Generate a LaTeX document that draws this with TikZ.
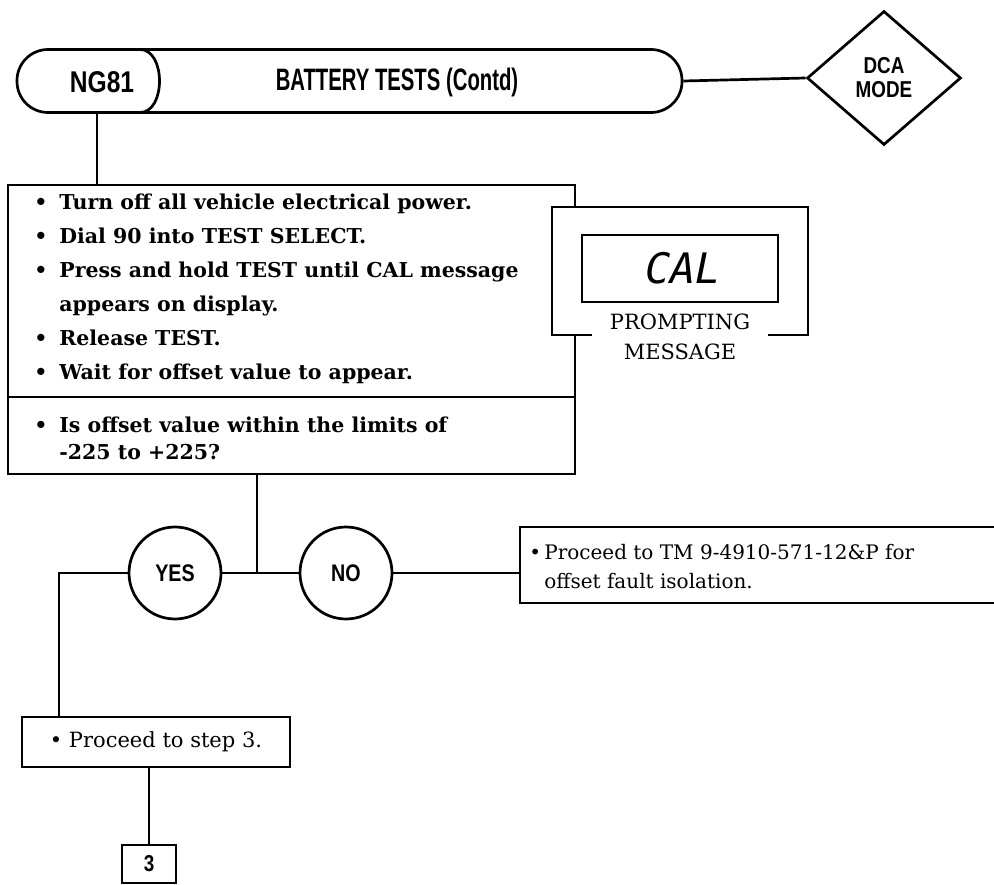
\documentclass[tikz,border=0pt]{standalone}
\usepackage{fontspec}
\setmainfont{DejaVu Serif}
\newfontfamily\hdr[FakeStretch=0.655]{Liberation Sans}
\newfontfamily\hdrb[FakeStretch=0.82]{Liberation Sans}
\newfontfamily\segfont[FakeSlant=0.2]{DejaVu Sans Mono}
\usetikzlibrary{shapes.geometric}
\begin{document}
\begin{tikzpicture}[x=1pt,y=-1pt, line width=2.7pt,
  lbl/.style={font=\hdrb\bfseries\fontsize{24}{25}\selectfont, inner sep=0, align=center},
  body/.style={font=\bfseries\fontsize{20.5}{24}\selectfont, inner sep=0, anchor=base west},
  plain/.style={font=\fontsize{20}{24}\selectfont, inner sep=0, anchor=base west},
  box/.style={draw, rectangle, inner sep=0},
  circ/.style={draw, circle, minimum size=92pt, inner sep=0, lbl}]
\useasboundingbox (0,0) rectangle (994,885);
% header
\node[draw, rounded corners=31pt, minimum width=665pt, minimum height=63pt, inner sep=0] (cap) at (349.5,81) {};
\draw (140,49.5) .. controls (166,49.5) and (166,112.5) .. (140,112.5);
\node[inner sep=0, font=\hdrb\bfseries\fontsize{30}{30}\selectfont] (ng) at (102,82) {NG81};
\node[inner sep=0, font=\hdr\bfseries\fontsize{31}{31}\selectfont] (title) at (397,82) {BATTERY TESTS (Contd)};
\node[draw, diamond, minimum width=154pt, minimum height=134pt, inner sep=0, lbl, font=\hdrb\bfseries\fontsize{23}{24}\selectfont] (dca) at (884,78) {DCA\\MODE};
\draw (cap.east) -- (dca.west);
% main box
\node[box, minimum width=567pt, minimum height=289pt] (main) at (291.5,329.5) {};
\coordinate (t1) at (97,112.5);
\draw (t1) -- (t1 |- main.north);
\draw (main.west |- 0,397) -- (main.east |- 0,397);
\node[body] (b1) at (33,209.5) {•};
\node[body] (l1) at (58,209.5) {Turn off all vehicle electrical power.};
\node[body] (b2) at (33,243.5) {•};
\node[body] (l2) at (58,243.5) {Dial 90 into TEST SELECT.};
\node[body] (b3b) at (33,277.5) {•};
\node[body] (l3) at (58,277.5) {Press and hold TEST until CAL message};
\node[body] (l4) at (58,311.5) {appears on display.};
\node[body] (b5) at (33,345.5) {•};
\node[body] (l5) at (58,345.5) {Release TEST.};
\node[body] (b6) at (33,379.5) {•};
\node[body] (l6) at (58,379.5) {Wait for offset value to appear.};
\node[body] (b7) at (33,432.5) {•};
\node[body] (l7) at (58,432.5) {Is offset value within the limits of};
\node[body] (l8) at (58,459.5) {-225 to +225?};
% prompting frame
\fill[white] (552,207) rectangle (808,335);
\draw (592,335) -- (552,335) -- (552,207) -- (808,207) -- (808,335) -- (768,335);
\node[box, minimum width=196pt, minimum height=67pt, font=\segfont\fontsize{42}{42}\selectfont] (disp) at (680,268.5) {CAL};
\node[inner sep=0, font=\fontsize{21}{24}\selectfont] (pm1) at (680,322) {PROMPTING};
\node[inner sep=0, font=\fontsize{21}{24}\selectfont] (pm2) at (680,352) {MESSAGE};
% decision
\node[circ] (yes) at (175,573) {YES};
\node[circ] (no) at (346,573) {NO};
\coordinate (j) at (257,573);
\draw (main.south -| j) -- (j);
\draw (yes) -- (no);
\node[box, minimum width=490pt, minimum height=76pt] (ngb) at (765,565) {};
\draw (no) -- (no -| ngb.west);
\node[plain] (nb) at (528,559) {•};
\node[plain] (n1) at (543,559) {Proceed to TM 9-4910-571-12\&P for};
\node[plain] (n2) at (543,588) {offset fault isolation.};
% yes branch
\node[box, minimum width=268pt, minimum height=50pt, font=\fontsize{21}{24}\selectfont] (proc) at (156,742) {• Proceed to step 3.};
\coordinate (c1) at (59,573);
\draw (yes.west) -- (c1) -- (c1 |- proc.north);
\node[box, minimum width=54pt, minimum height=38pt, font=\hdrb\bfseries\fontsize{23}{23}\selectfont] (s3) at (149,864) {3};
\draw (proc.south -| s3) -- (s3.north);
\end{tikzpicture}
\end{document}
